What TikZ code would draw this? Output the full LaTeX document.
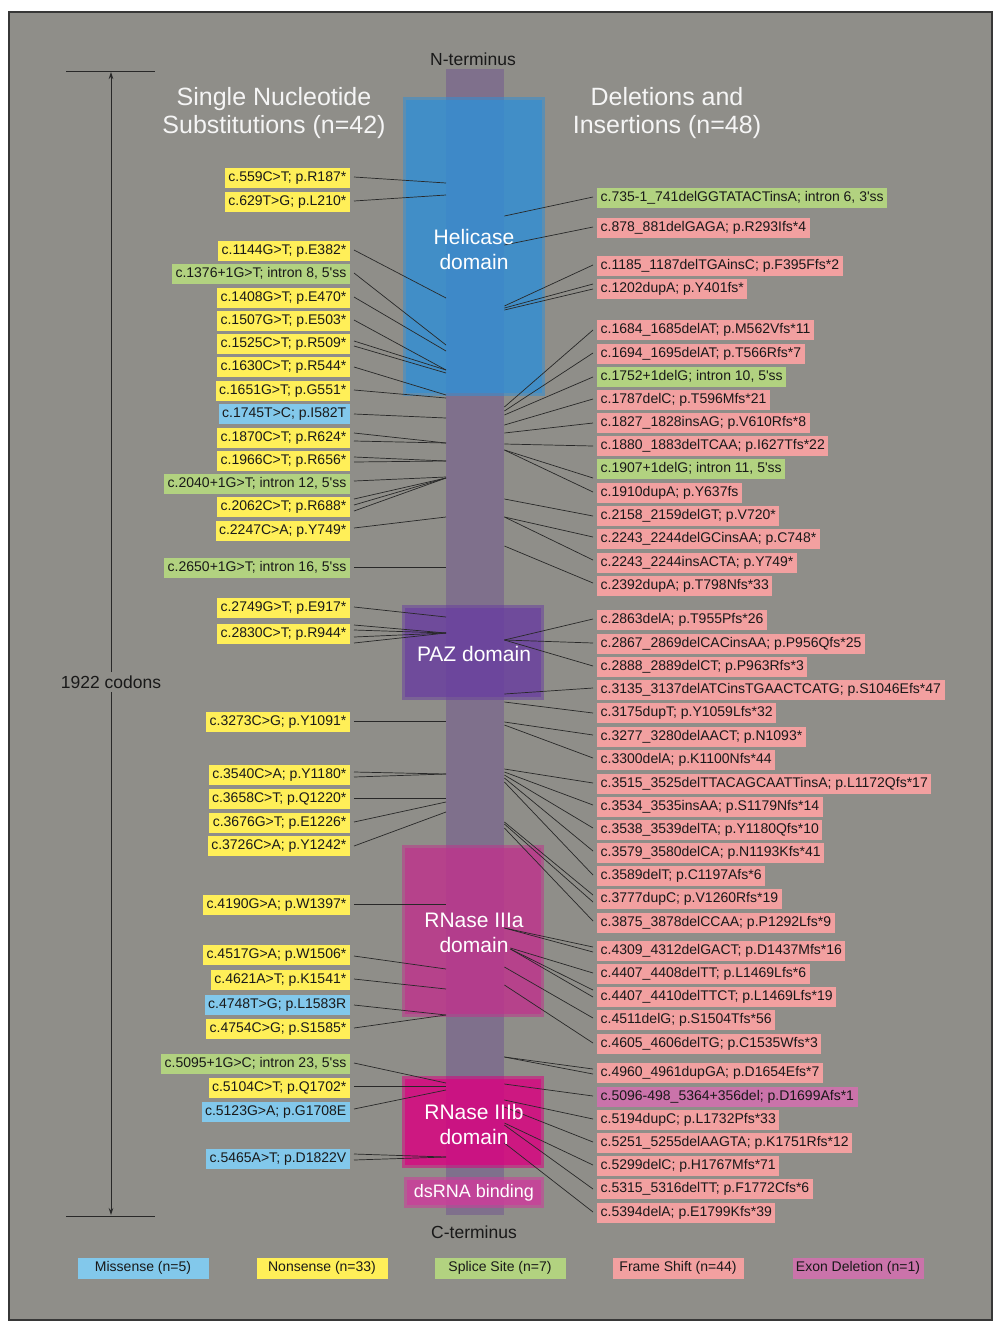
\documentclass[tikz,border=0pt]{standalone}
\usepackage{fontspec}
\setmainfont{Liberation Sans}
\usetikzlibrary{calc,arrows.meta}
\definecolor{bgc}{RGB}{143,142,137}
\definecolor{framec}{RGB}{55,55,55}
\definecolor{barc}{RGB}{127,112,140}
\definecolor{helc}{RGB}{52,142,211}
\definecolor{pazc}{RGB}{106,64,159}
\definecolor{r3ac}{RGB}{189,53,140}
\definecolor{r3bc}{RGB}{216,4,129}
\definecolor{dsc}{RGB}{205,60,155}
\definecolor{cy}{RGB}{255,239,88}
\definecolor{cg}{RGB}{178,210,128}
\definecolor{cb}{RGB}{130,200,235}
\definecolor{cp}{RGB}{242,160,160}
\definecolor{ce}{RGB}{202,115,170}
\definecolor{txt}{RGB}{25,25,25}
\definecolor{linec}{RGB}{40,40,40}
\tikzset{
  lab/.style={font=\fontsize{14}{16}\selectfont, text=txt, inner xsep=3.5pt, inner ysep=3.5pt,
    text height=10.5pt, text depth=3.2pt},
  conn/.style={draw=linec, line width=0.7pt},
  domtext/.style={font=\fontsize{21}{25}\selectfont, text=white, align=center},
  head/.style={font=\fontsize{25}{28}\selectfont, text=white!96!black, align=center},
  term/.style={font=\fontsize{17.5}{20}\selectfont, text=txt},
  legbox/.style={font=\fontsize{14}{16}\selectfont, text=txt, minimum width=131pt, minimum height=21pt, inner sep=0pt}
}
\newcommand\Lab[4]{\node[lab,fill=#3,anchor=east] (#1) at (350,#2) {#4};}
\newcommand\Rab[4]{\node[lab,fill=#3,anchor=west] (#1) at (597,#2) {#4};}
\newcommand\Lc[3]{\draw[conn] ($(#1.east)+(4,#2)$) -- (bar.west |- 0,#3);}
\newcommand\Rc[4][0]{\draw[conn] ($(#2.west)+(-4,#3)$) -- ($(bar.east |- 0,#4)+(#1,0)$);}
\newcommand\Dom[5]{%
  \fill[#5,fill opacity=0.55] (#1,#2) rectangle (#3,#4);
  \fill[#5,fill opacity=0.67] ($(#1,#2)+(3,3)$) rectangle ($(#3,#4)+(-3,-3)$);}
\begin{document}
\begin{tikzpicture}[x=1pt,y=-1pt]
\useasboundingbox (0,0) rectangle (1000,1331);
\fill[white] (0,0) rectangle (1000,1331);
\draw[fill=bgc, draw=framec, line width=1.5pt] (9,12) rectangle (992,1320);

% protein bar
\node[fill=barc, minimum width=58pt, minimum height=1146pt, inner sep=0pt, anchor=north west] (bar) at (446,69) {};

% domains
\Dom{403}{97}{545}{396}{helc}
\Dom{402}{605}{544}{700}{pazc}
\Dom{402}{845}{544}{1017}{r3ac}
\Dom{402}{1076}{544}{1168}{r3bc}
\Dom{404}{1177}{544}{1208}{dsc}

% headers
\node[term] (nterm) at (473,59) {N-terminus};
\node[term] (cterm) at (474,1232) {C-terminus};
\node[head] (hl) at (274,113) {Single Nucleotide\\Substitutions (n=42)};
\node[head] (hr) at (667,113) {Deletions and\\Insertions (n=48)};

% codons scale
\draw[linec, line width=0.8pt] (66,71) -- (155,71);
\draw[linec, line width=0.8pt] (66,1216) -- (155,1216);
\node[term] (codons) at (111,682) {1922 codons};
\coordinate (ctop) at (111,72);
\coordinate (cbot) at (111,1215);
\draw[linec, line width=0.8pt, -{Stealth[length=7pt,width=4.5pt]}] (codons.north) -- (ctop);
\draw[linec, line width=0.8pt, -{Stealth[length=7pt,width=4.5pt]}] (codons.south) -- (cbot);

% left labels
\Lab{L1}{178}{cy}{c.559C>T; p.R187*}
\Lab{L2}{202}{cy}{c.629T>G; p.L210*}
\Lab{L3}{251}{cy}{c.1144G>T; p.E382*}
\Lab{L4}{274}{cg}{c.1376+1G>T; intron 8, 5\textquotesingle ss}
\Lab{L5}{298}{cy}{c.1408G>T; p.E470*}
\Lab{L6}{321}{cy}{c.1507G>T; p.E503*}
\Lab{L7}{344}{cy}{c.1525C>T; p.R509*}
\Lab{L8}{367}{cy}{c.1630C>T; p.R544*}
\Lab{L9}{391}{cy}{c.1651G>T; p.G551*}
\Lab{L10}{414}{cb}{c.1745T>C; p.I582T}
\Lab{L11}{438}{cy}{c.1870C>T; p.R624*}
\Lab{L12}{461}{cy}{c.1966C>T; p.R656*}
\Lab{L13}{484}{cg}{c.2040+1G>T; intron 12, 5\textquotesingle ss}
\Lab{L14}{507}{cy}{c.2062C>T; p.R688*}
\Lab{L15}{531}{cy}{c.2247C>A; p.Y749*}
\Lab{L16}{568}{cg}{c.2650+1G>T; intron 16, 5\textquotesingle ss}
\Lab{L17}{608}{cy}{c.2749G>T; p.E917*}
\Lab{L18}{634}{cy}{c.2830C>T; p.R944*}
\Lab{L19}{722}{cy}{c.3273C>G; p.Y1091*}
\Lab{L20}{775}{cy}{c.3540C>A; p.Y1180*}
\Lab{L21}{799}{cy}{c.3658C>T; p.Q1220*}
\Lab{L22}{823}{cy}{c.3676G>T; p.E1226*}
\Lab{L23}{846}{cy}{c.3726C>A; p.Y1242*}
\Lab{L24}{905}{cy}{c.4190G>A; p.W1397*}
\Lab{L25}{955}{cy}{c.4517G>A; p.W1506*}
\Lab{L26}{980}{cy}{c.4621A>T; p.K1541*}
\Lab{L27}{1005}{cb}{c.4748T>G; p.L1583R}
\Lab{L28}{1029}{cy}{c.4754C>G; p.S1585*}
\Lab{L29}{1064}{cg}{c.5095+1G>C; intron 23, 5\textquotesingle ss}
\Lab{L30}{1088}{cy}{c.5104C>T; p.Q1702*}
\Lab{L31}{1112}{cb}{c.5123G>A; p.G1708E}
\Lab{L32}{1159}{cb}{c.5465A>T; p.D1822V}

% left connectors
\Lc{L1}{-1}{183}
\Lc{L2}{-1}{195}
\Lc{L3}{-1}{298}
\Lc{L4}{-1}{345}
\Lc{L5}{-1}{351}
\Lc{L6}{-1}{370}
\Lc{L7}{-3}{370}\Lc{L7}{2}{373}
\Lc{L8}{0}{395}
\Lc{L9}{-1}{398}
\Lc{L10}{0}{418}
\Lc{L11}{-5}{443}\Lc{L11}{3}{443}
\Lc{L12}{-4}{461}\Lc{L12}{1}{461}
\Lc{L13}{-3}{477}
\Lc{L14}{-8}{478}\Lc{L14}{-2}{478}\Lc{L14}{4}{478}
\Lc{L15}{-3}{517}
\Lc{L16}{-1}{567}
\Lc{L17}{-1}{617}
\Lc{L18}{-9}{633}\Lc{L18}{-4}{633}\Lc{L18}{3}{633}\Lc{L18}{9}{633}
\Lc{L19}{-1}{721}
\Lc{L20}{-3}{774}\Lc{L20}{2}{774}
\Lc{L21}{-1}{798}
\Lc{L22}{-1}{802}
\Lc{L23}{0}{812}
\Lc{L24}{-1}{904}
\Lc{L25}{1}{969}
\Lc{L26}{-1}{989}
\Lc{L27}{0}{1015}
\Lc{L28}{-1}{1015}
\Lc{L29}{-1}{1083}
\Lc{L30}{-2}{1086}
\Lc{L31}{-3}{1090}
\Lc{L32}{-5}{1157}\Lc{L32}{1}{1157}

% right labels
\Rab{R1}{198}{cg}{c.735-1\_741delGGTATACTinsA; intron 6, 3\textquotesingle ss}
\Rab{R2}{228}{cp}{c.878\_881delGAGA; p.R293Ifs*4}
\Rab{R3}{266}{cp}{c.1185\_1187delTGAinsC; p.F395Ffs*2}
\Rab{R4}{289}{cp}{c.1202dupA; p.Y401fs*}
\Rab{R5}{330}{cp}{c.1684\_1685delAT; p.M562Vfs*11}
\Rab{R6}{354}{cp}{c.1694\_1695delAT; p.T566Rfs*7}
\Rab{R7}{377}{cg}{c.1752+1delG; intron 10, 5\textquotesingle ss}
\Rab{R8}{400}{cp}{c.1787delC; p.T596Mfs*21}
\Rab{R9}{423}{cp}{c.1827\_1828insAG; p.V610Rfs*8}
\Rab{R10}{446}{cp}{c.1880\_1883delTCAA; p.I627Tfs*22}
\Rab{R11}{469}{cg}{c.1907+1delG; intron 11, 5\textquotesingle ss}
\Rab{R12}{493}{cp}{c.1910dupA; p.Y637fs}
\Rab{R13}{516}{cp}{c.2158\_2159delGT; p.V720*}
\Rab{R14}{539}{cp}{c.2243\_2244delGCinsAA; p.C748*}
\Rab{R15}{563}{cp}{c.2243\_2244insACTA; p.Y749*}
\Rab{R16}{586}{cp}{c.2392dupA; p.T798Nfs*33}
\Rab{R17}{620}{cp}{c.2863delA; p.T955Pfs*26}
\Rab{R18}{644}{cp}{c.2867\_2869delCACinsAA; p.P956Qfs*25}
\Rab{R19}{667}{cp}{c.2888\_2889delCT; p.P963Rfs*3}
\Rab{R20}{690}{cp}{c.3135\_3137delATCinsTGAACTCATG; p.S1046Efs*47}
\Rab{R21}{713}{cp}{c.3175dupT; p.Y1059Lfs*32}
\Rab{R22}{737}{cp}{c.3277\_3280delAACT; p.N1093*}
\Rab{R23}{760}{cp}{c.3300delA; p.K1100Nfs*44}
\Rab{R24}{784}{cp}{c.3515\_3525delTTACAGCAATTinsA; p.L1172Qfs*17}
\Rab{R25}{807}{cp}{c.3534\_3535insAA; p.S1179Nfs*14}
\Rab{R26}{830}{cp}{c.3538\_3539delTA; p.Y1180Qfs*10}
\Rab{R27}{853}{cp}{c.3579\_3580delCA; p.N1193Kfs*41}
\Rab{R28}{876}{cp}{c.3589delT; p.C1197Afs*6}
\Rab{R29}{899}{cp}{c.3777dupC; p.V1260Rfs*19}
\Rab{R30}{923}{cp}{c.3875\_3878delCCAA; p.P1292Lfs*9}
\Rab{R31}{951}{cp}{c.4309\_4312delGACT; p.D1437Mfs*16}
\Rab{R32}{974}{cp}{c.4407\_4408delTT; p.L1469Lfs*6}
\Rab{R33}{997}{cp}{c.4407\_4410delTTCT; p.L1469Lfs*19}
\Rab{R34}{1020}{cp}{c.4511delG; p.S1504Tfs*56}
\Rab{R35}{1044}{cp}{c.4605\_4606delTG; p.C1535Wfs*3}
\Rab{R36}{1073}{cp}{c.4960\_4961dupGA; p.D1654Efs*7}
\Rab{R37}{1097}{ce}{c.5096-498\_5364+356del; p.D1699Afs*1}
\Rab{R38}{1120}{cp}{c.5194dupC; p.L1732Pfs*33}
\Rab{R39}{1143}{cp}{c.5251\_5255delAAGTA; p.K1751Rfs*12}
\Rab{R40}{1166}{cp}{c.5299delC; p.H1767Mfs*71}
\Rab{R41}{1189}{cp}{c.5315\_5316delTT; p.F1772Cfs*6}
\Rab{R42}{1213}{cp}{c.5394delA; p.E1799Kfs*39}

% right connectors
\Rc{R1}{-1}{216}
\Rc{R2}{-1}{245}
\Rc{R3}{-1}{306}
\Rc{R4}{-5}{308}\Rc{R4}{0}{310}
\Rc{R5}{0}{407}
\Rc{R6}{-1}{411}
\Rc{R7}{0}{415}
\Rc{R8}{-1}{425}
\Rc{R9}{0}{433}
\Rc{R10}{0}{444}
\Rc{R11}{9}{450}
\Rc{R12}{-1}{450}
\Rc{R13}{0}{499}
\Rc{R14}{-2}{517}
\Rc{R15}{-3}{517}
\Rc{R16}{-3}{546}
\Rc{R17}{-1}{640}
\Rc{R18}{-1}{640}
\Rc{R19}{-1}{640}
\Rc{R20}{-2}{694}
\Rc{R21}{0}{702}
\Rc{R22}{-2}{722}
\Rc{R23}{-2}{725}
\Rc{R24}{-1}{769}
\Rc{R25}{-2}{772}
\Rc{R26}{-2}{775}
\Rc{R27}{-2}{778}
\Rc{R28}{-1}{782}
\Rc{R29}{-4}{822}\Rc{R29}{3}{824}
\Rc{R30}{-2}{828}
\Rc{R31}{-4}{928}\Rc{R31}{1}{928}
\Rc[6]{R32}{-1}{948}
\Rc[6]{R33}{-7}{949}\Rc[6]{R33}{0}{949}
\Rc{R34}{-2}{967}
\Rc{R35}{-1}{985}
\Rc{R36}{-4}{1057}\Rc{R36}{1}{1057}
\Rc{R37}{-1}{1084}
\Rc{R38}{-1}{1100}
\Rc{R39}{-1}{1107}
\Rc{R40}{-1}{1123}
\Rc{R41}{0}{1125}
\Rc{R42}{-1}{1143}

% domain texts
\node[domtext] (helt) at (474,249) {Helicase\\domain};
\node[domtext] (pazt) at (474,654) {PAZ domain};
\node[domtext] (r3at) at (474,933) {RNase IIIa\\domain};
\node[domtext] (r3bt) at (474,1124) {RNase IIIb\\domain};
\node[font=\fontsize{18}{20}\selectfont, text=white] (dst) at (474,1193) {dsRNA binding};

% legend
\node[legbox, fill=cb] (lg1) at (143,1268) {Missense (n=5)};
\node[legbox, fill=cy] (lg2) at (322,1268) {Nonsense (n=33)};
\node[legbox, fill=cg] (lg3) at (500,1268) {Splice Site (n=7)};
\node[legbox, fill=cp] (lg4) at (678,1268) {Frame Shift (n=44)};
\node[legbox, fill=ce] (lg5) at (858,1268) {Exon Deletion (n=1)};
\end{tikzpicture}
\end{document}
